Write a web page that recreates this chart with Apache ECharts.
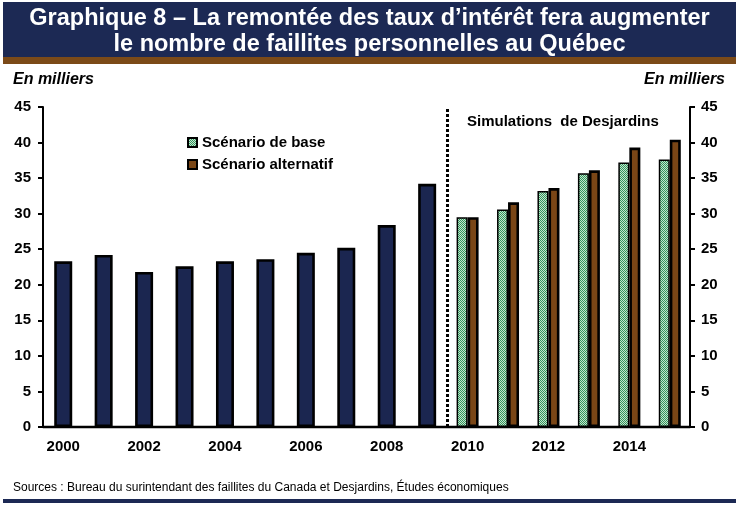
<!DOCTYPE html>
<html>
<head>
<meta charset="utf-8">
<script src="https://cdn.jsdelivr.net/npm/echarts@6/dist/echarts.min.js"></script>
<style>html,body{margin:0;padding:0;background:#fff}#c{width:739px;height:519px}</style>
</head>
<body>
<div id="c"></div>
<script>
// ---- data ----
var years = ['2000','2001','2002','2003','2004','2005','2006','2007','2008','2009','2010','2011','2012','2013','2014','2015'];
var historique = [23.3, 24.2, 21.8, 22.6, 23.3, 23.6, 24.5, 25.2, 28.4, 34.2, null, null, null, null, null, null];
var scenarioBase = [null, null, null, null, null, null, null, null, null, null, 29.5, 30.6, 33.2, 35.7, 37.2, 37.6];
var scenarioAlt = [null, null, null, null, null, null, null, null, null, null, 29.5, 31.6, 33.6, 36.1, 39.3, 40.4];
var yTicks = {min: 0, max: 45, interval: 5};
var simulationStartIndex = 10;

var titleLines = ['Graphique 8 \u2013 La remont\u00e9e des taux d\u2019int\u00e9r\u00eat fera augmenter', 'le nombre de faillites personnelles au Qu\u00e9bec'];
var unitLabel = 'En milliers';
var simLabel = 'Simulations  de Desjardins';
var sourceText = 'Sources : Bureau du surintendant des faillites du Canada et Desjardins, \u00c9tudes \u00e9conomiques';

// ---- styles ----
var NAVY = '#1b2650', BROWN = '#7a4616';
var pc = document.createElement('canvas');
pc.width = 2; pc.height = 2;
var pctx = pc.getContext('2d');
pctx.fillStyle = '#c4e6cc'; pctx.fillRect(0,0,2,2);
pctx.fillStyle = '#33945f'; pctx.fillRect(0,0,1,1); pctx.fillRect(1,1,1,1);
var greenPattern = {image: pc, repeat: 'repeat'};

var FONT = '"Liberation Sans", Arial, sans-serif';
var chart = echarts.init(document.getElementById('c'), null, {renderer: 'canvas'});

var yAxisCommon = {
  type: 'value', min: yTicks.min, max: yTicks.max, interval: yTicks.interval,
  splitLine: {show: false},
  axisLine: {show: true, lineStyle: {color: '#000', width: 2}},
  axisTick: {show: true, length: 5, lineStyle: {color: '#000', width: 2}},
  axisLabel: {color: '#000', fontFamily: FONT, fontWeight: 'bold', fontSize: 15, margin: 12}
};

var option = {
  animation: false,
  backgroundColor: '#fff',
  textStyle: {fontFamily: FONT},
  grid: {left: 43, right: 49, top: 107, bottom: 92},
  legend: {
    data: ['Sc\u00e9nario de base', 'Sc\u00e9nario alternatif'],
    orient: 'vertical', left: 182, top: 130, itemGap: 7,
    itemWidth: 9, itemHeight: 9, icon: 'rect',
    textStyle: {color: '#000', fontFamily: FONT, fontWeight: 'bold', fontSize: 15}
  },
  xAxis: [
    {type: 'category', data: years, boundaryGap: true,
     axisLine: {show: true, lineStyle: {color: '#000', width: 2.3}},
     axisTick: {show: false},
     axisLabel: {interval: 1, color: '#000', fontFamily: FONT, fontWeight: 'bold', fontSize: 15, margin: 12}},
    {type: 'category', data: years, boundaryGap: true, show: false},
    {type: 'value', min: 0, max: years.length, show: false}
  ],
  yAxis: [
    Object.assign({position: 'left'}, yAxisCommon),
    Object.assign({position: 'right'}, yAxisCommon, {axisLabel: Object.assign({}, yAxisCommon.axisLabel, {margin: 11})})
  ],
  series: [
    {name: 'Historique', type: 'bar', xAxisIndex: 1, yAxisIndex: 0, data: historique, barWidth: 18,
     itemStyle: {color: NAVY, borderColor: '#000', borderWidth: 2.6}},
    {name: 'Sc\u00e9nario de base', type: 'bar', xAxisIndex: 0, yAxisIndex: 0, data: scenarioBase, barWidth: 11, barGap: '0%',
     itemStyle: {color: greenPattern, borderColor: '#000', borderWidth: 1.5}},
    {name: 'Sc\u00e9nario alternatif', type: 'bar', xAxisIndex: 0, yAxisIndex: 0, data: scenarioAlt, barWidth: 11, barGap: '0%',
     itemStyle: {color: BROWN, borderColor: '#000', borderWidth: 2.6}},
    {name: 'sep', type: 'line', xAxisIndex: 2, yAxisIndex: 0, data: [], silent: true,
     markLine: {symbol: 'none', silent: true, label: {show: false}, animation: false,
       lineStyle: {color: '#000', type: [3, 2], width: 3},
       data: [{xAxis: simulationStartIndex}]}}
  ],
  graphic: [
    {type: 'rect', shape: {x: 3, y: 2, width: 733, height: 56}, style: {fill: '#1c2954'}, z: 10},
    {type: 'rect', shape: {x: 3, y: 57, width: 733, height: 7}, style: {fill: '#7b4a18'}, z: 10},
    {type: 'text', x: 369.5, y: 19, z: 11, style: {text: titleLines[0], fill: '#fff', font: 'bold 23.5px ' + FONT,
      align: 'center', verticalAlign: 'middle', shadowColor: '#000', shadowOffsetX: 2, shadowOffsetY: 2, shadowBlur: 0}},
    {type: 'text', x: 369.5, y: 45, z: 11, style: {text: titleLines[1], fill: '#fff', font: 'bold 23.5px ' + FONT,
      align: 'center', verticalAlign: 'middle', shadowColor: '#000', shadowOffsetX: 2, shadowOffsetY: 2, shadowBlur: 0}},
    {type: 'text', x: 13, y: 80, z: 11, style: {text: unitLabel, fill: '#000', font: 'italic bold 16px ' + FONT, align: 'left', verticalAlign: 'middle'}},
    {type: 'text', x: 725, y: 80, z: 11, style: {text: unitLabel, fill: '#000', font: 'italic bold 16px ' + FONT, align: 'right', verticalAlign: 'middle'}},
    {type: 'text', x: 467, y: 122, z: 11, style: {text: simLabel, fill: '#000', font: 'bold 15px ' + FONT, align: 'left', verticalAlign: 'middle'}},
    {type: 'text', x: 13, y: 488, z: 11, style: {text: sourceText, fill: '#000', font: '12px ' + FONT, align: 'left', verticalAlign: 'middle'}},
    {type: 'rect', shape: {x: 3, y: 499, width: 733, height: 4}, style: {fill: '#1c2954'}, z: 10}
  ]
};
chart.setOption(option);
</script>
</body>
</html>
